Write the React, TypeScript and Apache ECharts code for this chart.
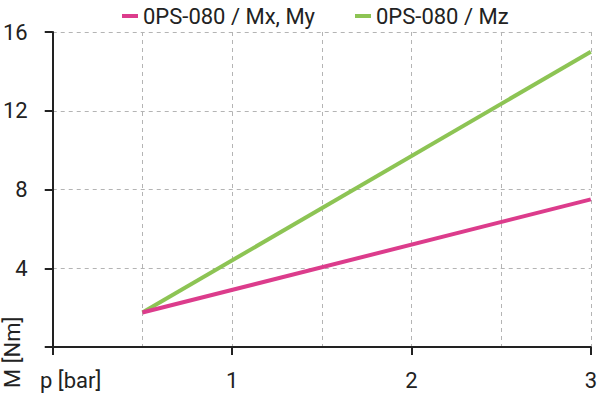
import React, { useEffect, useRef } from "react";
import * as echarts from "echarts";

const pressure = [0.5, 3];
const mxMy = [1.75, 7.5];
const mz = [1.75, 15];
const seriesNames = ["0PS-080 / Mx, My", "0PS-080 / Mz"];
const colors = ["#dc3c8c", "#8dc454"];
const xName = "p [bar]";
const yName = "M [Nm]";

export default function App() {
  const ref = useRef<HTMLDivElement>(null);
  useEffect(() => {
    if (!ref.current) return;
    const chart = echarts.init(ref.current, null, { renderer: "svg" });
    const font = "Roboto";
    const fs = 22;
    const ink = "#222";
    const grid = { color: "#b4b4b4", type: [4, 4], width: 1 };
    chart.setOption({
      animation: false,
      textStyle: { fontFamily: font },
      legend: {
        top: 0,
        left: 117,
        itemWidth: 16,
        itemHeight: 4,
        itemGap: 40,
        icon: "rect",
        textStyle: { fontSize: fs, color: ink, fontFamily: font },
        data: seriesNames,
      },
      grid: { left: 50, right: 4, top: 32, bottom: 46, containLabel: false },
      xAxis: {
        type: "value",
        min: 0,
        max: 3,
        interval: 1,
        axisLine: { show: true, onZero: false, lineStyle: { color: ink, width: 2 } },
        axisTick: { show: true, length: 8, lineStyle: { color: ink, width: 2 } },
        axisLabel: {
          fontSize: fs,
          color: ink,
          fontFamily: font,
          margin: 22,
          formatter: (v: number) => (v === 0 ? "" : String(v)),
        },
        splitLine: { show: true, lineStyle: grid },
        minorTick: { show: false, splitNumber: 2 },
        minorSplitLine: { show: true, lineStyle: grid },
      },
      yAxis: {
        type: "value",
        min: 0,
        max: 16,
        interval: 4,
        axisLine: { show: true, lineStyle: { color: ink, width: 2 } },
        axisTick: { show: true, length: 8, lineStyle: { color: ink, width: 2 } },
        axisLabel: {
          fontSize: fs,
          color: ink,
          fontFamily: font,
          margin: 25,
          formatter: (v: number) => (v === 0 ? "" : String(v)),
        },
        splitLine: { show: true, lineStyle: grid },
      },
      graphic: [
        {
          type: "text",
          x: 40,
          y: 369,
          style: { text: xName, fontSize: fs, fill: ink, fontFamily: font, align: "left", verticalAlign: "top" },
        },
        {
          type: "group",
          x: 1,
          y: 388,
          rotation: Math.PI / 2,
          children: [
            {
              type: "text",
              x: 0,
              y: 0,
              style: { text: yName, fontSize: fs, fill: ink, fontFamily: font, align: "left", verticalAlign: "top" },
            },
          ],
        },
      ],
      series: [
        {
          name: seriesNames[0],
          type: "line",
          data: pressure.map((p, i) => [p, mxMy[i]]),
          showSymbol: false,
          lineStyle: { color: colors[0], width: 4 },
          itemStyle: { color: colors[0] },
          z: 3,
        },
        {
          name: seriesNames[1],
          type: "line",
          data: pressure.map((p, i) => [p, mz[i]]),
          showSymbol: false,
          lineStyle: { color: colors[1], width: 4 },
          itemStyle: { color: colors[1] },
          z: 2,
        },
      ],
    });
    return () => chart.dispose();
  }, []);
  return <div ref={ref} style={{ width: 600, height: 393, position: "absolute", left: 0, top: 0 }} />;
}
